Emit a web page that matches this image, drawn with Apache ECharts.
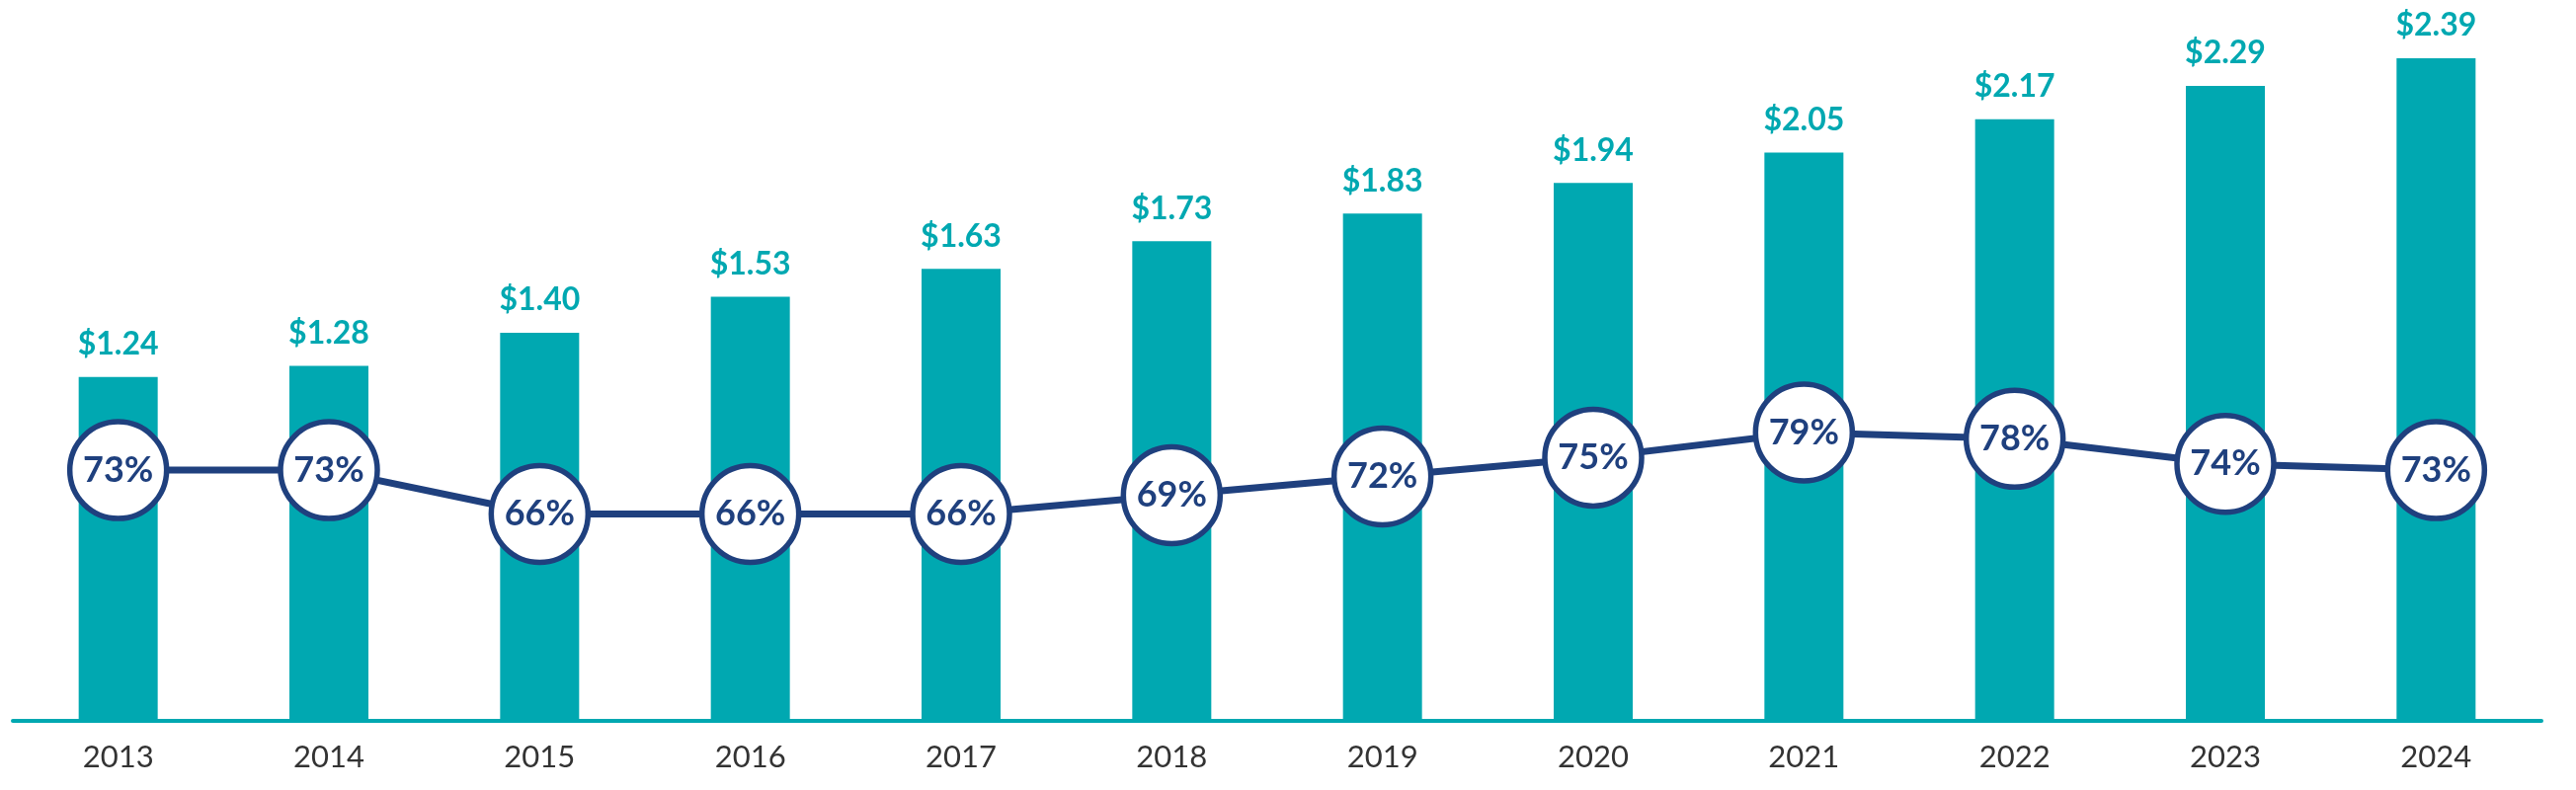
<!DOCTYPE html>
<html>
<head>
<meta charset="utf-8">
<script src="https://cdn.jsdelivr.net/npm/echarts@6/dist/echarts.min.js"></script>
<style>
html,body{margin:0;padding:0;background:#fff;}
#chart{width:2608px;height:800px;}
</style>
</head>
<body>
<div id="chart"></div>
<script>
const years = ['2013','2014','2015','2016','2017','2018','2019','2020','2021','2022','2023','2024'];
const dollarValues = [1.24,1.28,1.40,1.53,1.63,1.73,1.83,1.94,2.05,2.17,2.29,2.39];
const percentValues = [73,73,66,66,66,69,72,75,79,78,74,73];

const TEAL = '#00A8B1';
const NAVY = '#1F407E';

const chart = echarts.init(document.getElementById('chart'));
chart.setOption({
  animation: false,
  backgroundColor: '#ffffff',
  grid: { left: 13, right: 35, top: 0, bottom: 70, containLabel: false, outerBoundsMode: 'none' },
  xAxis: {
    type: 'category',
    data: years,
    axisLine: { show: true, lineStyle: { color: TEAL, width: 4 } },
    axisTick: { show: false },
    axisLabel: { color: '#333333', fontFamily: 'Lato', fontSize: 31, margin: 21 }
  },
  yAxis: [
    { type: 'value', min: 0, max: 2.6, show: false, splitLine: { show: false } },
    { type: 'value', min: 33, max: 148, show: false, splitLine: { show: false } }
  ],
  series: [
    {
      type: 'bar',
      data: dollarValues,
      yAxisIndex: 0,
      barWidth: 80,
      itemStyle: { color: TEAL },
      label: {
        show: true,
        position: 'top',
        distance: 17,
        color: TEAL,
        fontFamily: 'Lato',
        fontWeight: 'bold',
        fontSize: 32,
        formatter: p => '$' + p.value.toFixed(2)
      }
    },
    {
      type: 'line',
      data: percentValues,
      yAxisIndex: 1,
      symbol: 'circle',
      symbolSize: 98,
      lineStyle: { color: NAVY, width: 7 },
      itemStyle: { color: '#ffffff', borderColor: NAVY, borderWidth: 5.5 },
      label: {
        show: true,
        position: 'inside',
        color: NAVY,
        fontFamily: 'Lato',
        fontWeight: 'bold',
        fontSize: 36,
        formatter: p => p.value + '%'
      },
      z: 3
    }
  ]
});
</script>
</body>
</html>
